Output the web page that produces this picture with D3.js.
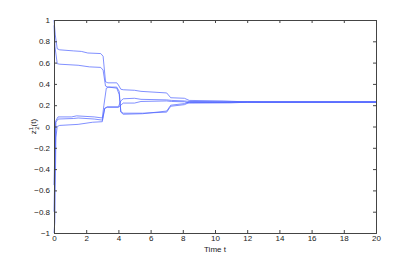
<!DOCTYPE html>
<html>
<head>
<meta charset="utf-8">
<script src="https://cdn.jsdelivr.net/npm/d3@7"></script>
<style>
  body { margin: 0; background: #fff; }
  text { font-family: "Liberation Sans", Arial, sans-serif; fill: #222; }
</style>
</head>
<body>
<div id="chart"></div>
<script>
// trajectories of z_2^1(t) for each agent, [t, value]
var agentA = [[0,1],[0.08,0.86],[0.2,0.73],[0.35,0.72],[1.2,0.71],[1.7,0.705],[2.1,0.69],[2.9,0.685],[3.05,0.66],[3.2,0.42],[3.35,0.41],[3.9,0.41],[4.0,0.39],[4.15,0.35],[4.3,0.345],[5.0,0.34],[5.4,0.33],[7.0,0.315],[7.25,0.27],[8.1,0.265],[8.4,0.245],[10.5,0.24],[11.8,0.232],[13,0.23],[20,0.23]];
var agentB = [[0,0.95],[0.06,0.75],[0.2,0.59],[0.35,0.585],[1.5,0.575],[2.2,0.56],[2.9,0.555],[3.05,0.53],[3.2,0.38],[3.35,0.37],[3.9,0.37],[4.05,0.33],[4.15,0.14],[4.3,0.125],[5.5,0.125],[7.0,0.135],[7.25,0.19],[8.1,0.205],[8.4,0.225],[11,0.226],[12,0.23],[20,0.23]];
var agentC = [[0,-0.55],[0.1,0.05],[0.25,0.09],[1.1,0.09],[1.4,0.1],[2.5,0.09],[3.0,0.08],[3.1,0.2],[3.25,0.36],[3.4,0.37],[3.9,0.36],[4.05,0.3],[4.15,0.135],[4.3,0.115],[5.5,0.12],[7.0,0.145],[7.25,0.2],[8.1,0.215],[8.4,0.23],[10.5,0.228],[12,0.23],[20,0.23]];
var agentD = [[0,-0.8],[0.12,0.04],[0.25,0.07],[1.2,0.075],[1.5,0.08],[2.5,0.07],[3.0,0.06],[3.15,0.17],[3.3,0.185],[4.0,0.185],[4.15,0.24],[4.3,0.26],[5.0,0.265],[5.4,0.255],[7.0,0.25],[7.3,0.245],[8.1,0.24],[8.4,0.235],[11,0.233],[12,0.23],[20,0.23]];
var agentE = [[0,-1],[0.05,-0.9],[0.12,-0.1],[0.2,0.0],[0.35,0.01],[1.5,0.02],[2.4,0.04],[3.0,0.045],[3.15,0.17],[3.3,0.18],[4.0,0.18],[4.15,0.2],[4.3,0.22],[5.0,0.22],[5.4,0.235],[7.0,0.24],[7.3,0.235],[8.1,0.232],[8.4,0.22],[11,0.222],[12,0.228],[20,0.229]];
var agents = [agentA, agentB, agentC, agentD, agentE];

var xTicks = [0, 2, 4, 6, 8, 10, 12, 14, 16, 18, 20];
var yTicks = [-1, -0.8, -0.6, -0.4, -0.2, 0, 0.2, 0.4, 0.6, 0.8, 1];

var width = 415, height = 262;
var margin = {top: 20, right: 39, bottom: 29, left: 54};

var svg = d3.select("#chart").append("svg")
    .attr("width", width)
    .attr("height", height);

var x = d3.scaleLinear()
    .domain([0, 20])
    .range([margin.left, width - margin.right]);

var y = d3.scaleLinear()
    .domain([-1, 1])
    .range([height - margin.bottom, margin.top]);

var fmt = function (d) { return d3.format("")(d).replace("-", "\u2212"); };

// lines
var line = d3.line()
    .x(function (d) { return x(d[0]); })
    .y(function (d) { return y(d[1]); });

svg.append("g").selectAll("path")
    .data(agents)
    .enter().append("path")
    .attr("d", line)
    .attr("fill", "none")
    .attr("stroke", "#4a60ff")
    .attr("stroke-width", 0.7);

// axes, MATLAB style: ticks inside on all four sides
var tick = 3;
var xAxisB = d3.axisBottom(x).tickValues(xTicks).tickSize(-tick).tickPadding(2).tickFormat(fmt);
var xAxisT = d3.axisTop(x).tickValues(xTicks).tickSize(-tick).tickFormat("");
var yAxisL = d3.axisLeft(y).tickValues(yTicks).tickSize(-tick).tickPadding(4).tickFormat(fmt);
var yAxisR = d3.axisRight(y).tickValues(yTicks).tickSize(-tick).tickFormat("");

var gB = svg.append("g").attr("transform", "translate(0," + y(-1) + ")").call(xAxisB);
var gT = svg.append("g").attr("transform", "translate(0," + y(1) + ")").call(xAxisT);
var gL = svg.append("g").attr("transform", "translate(" + x(0) + ",0)").call(yAxisL);
var gR = svg.append("g").attr("transform", "translate(" + x(20) + ",0)").call(yAxisR);

[gB, gT, gL, gR].forEach(function (g) {
    g.selectAll(".domain").attr("stroke", "#444").attr("stroke-width", 1);
    g.selectAll(".tick line").attr("stroke", "#444");
    g.selectAll("text").style("font-size", "8px").attr("fill", "#222");
});

// labels
svg.append("text")
    .attr("x", (x(0) + x(20)) / 2)
    .attr("y", 252)
    .attr("text-anchor", "middle")
    .style("font-size", "8px")
    .text("Time t");

var yl = svg.append("text")
    .attr("transform", "translate(36," + y(0) + ") rotate(-90)")
    .attr("text-anchor", "middle")
    .style("font-size", "8px");
yl.append("tspan").text("z");
yl.append("tspan").attr("dy", -3).style("font-size", "6px").text("1");
yl.append("tspan").attr("dx", -3).attr("dy", 6).style("font-size", "6px").text("2");
yl.append("tspan").attr("dy", -3).text("(t)");
</script>
</body>
</html>
